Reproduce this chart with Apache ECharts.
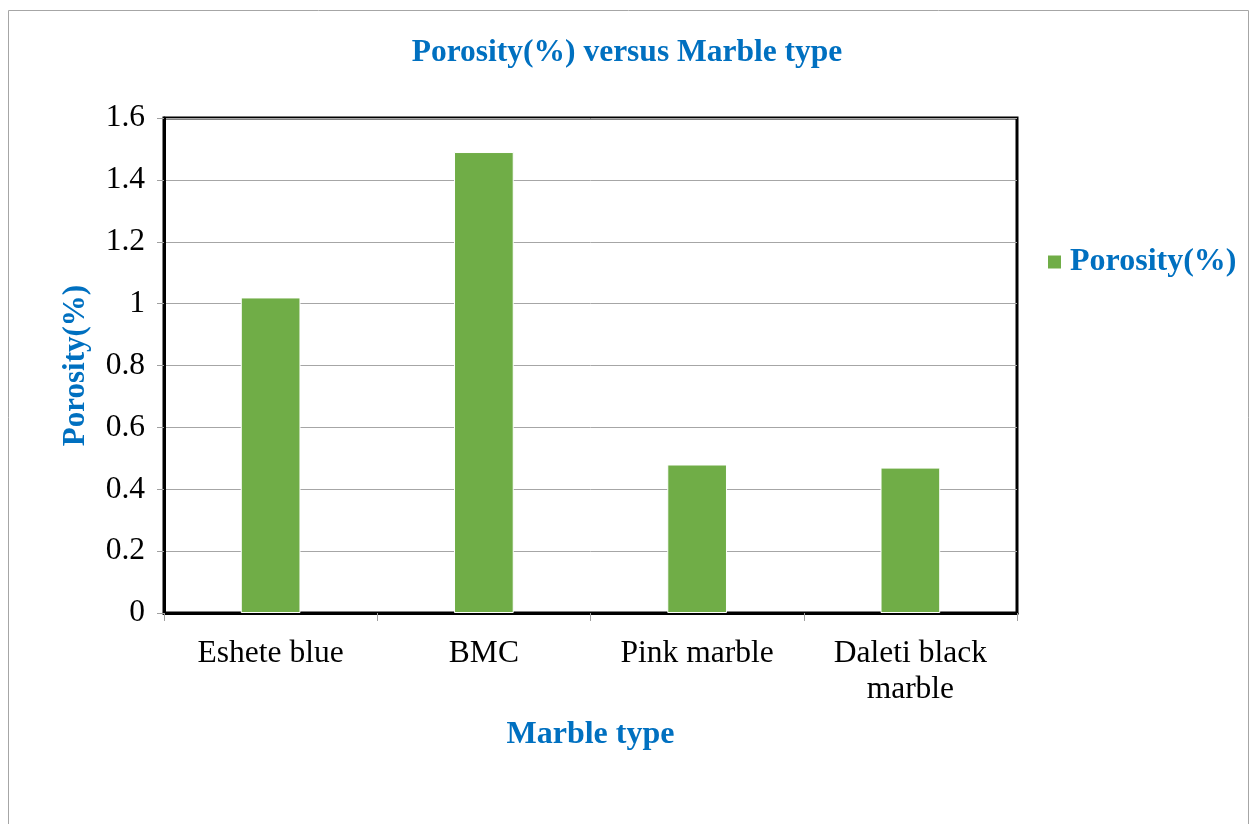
<!DOCTYPE html>
<html><head><meta charset="utf-8">
<script src="https://cdn.jsdelivr.net/npm/echarts@6/dist/echarts.min.js"></script>
<style>html,body{margin:0;padding:0;background:#fff}#c{width:1254px;height:824px}</style>
</head><body><div id="c"></div>
<script>
const categories = ['Eshete blue', 'BMC', 'Pink marble', 'Daleti black\nmarble'];
const porosity = [1.02, 1.49, 0.48, 0.47];
const seriesName = 'Porosity(%)';
const titleText = 'Porosity(%) versus Marble type';
const xName = 'Marble type';
const yName = 'Porosity(%)';

const blue = '#0070C0';
const serif = '"Liberation Serif", "Times New Roman", serif';
const chart = echarts.init(document.getElementById('c'));
chart.setOption({
  animation: false,
  backgroundColor: '#fff',
  graphic: [{type: 'rect', shape: {x: 8.5, y: 10.5, width: 1240, height: 830}, style: {fill: 'none', stroke: '#a6a6a6', lineWidth: 1}, silent: true}],
  title: {text: titleText, left: 'center', top: 32, textStyle: {fontFamily: serif, fontWeight: 'bold', fontSize: 31.5, color: blue}},
  legend: {data: [seriesName], left: 1041, top: 241, orient: 'vertical', itemWidth: 15, itemHeight: 15, itemGap: 8, icon: 'rect',
    textStyle: {fontFamily: serif, fontWeight: 'bold', fontSize: 32, color: blue, padding: [0, 0, 0, 3]}},
  grid: {left: 164, right: 237, top: 118, bottom: 211, show: true, borderColor: '#000', borderWidth: 3, containLabel: false},
  xAxis: {type: 'category', data: categories,
    name: xName, nameLocation: 'middle', nameGap: 106,
    nameTextStyle: {fontFamily: serif, fontWeight: 'bold', fontSize: 32, color: blue},
    axisLine: {lineStyle: {color: '#000', width: 3}},
    axisTick: {show: true, length: 8, lineStyle: {color: '#a0a0a0', width: 1}},
    axisLabel: {fontFamily: serif, fontSize: 31.5, color: '#000', margin: 23, lineHeight: 36},
    splitLine: {show: false}},
  yAxis: {type: 'value', min: 0, max: 1.6, interval: 0.2,
    name: yName, nameLocation: 'middle', nameGap: 73,
    nameTextStyle: {fontFamily: serif, fontWeight: 'bold', fontSize: 31, color: blue},
    axisLine: {show: true, lineStyle: {color: '#000', width: 3}},
    axisTick: {show: true, length: 7, lineStyle: {color: '#a0a0a0', width: 1}},
    axisLabel: {fontFamily: serif, fontSize: 31.5, color: '#000', margin: 19,
      formatter: v => String(Math.round(v * 10) / 10)},
    splitLine: {lineStyle: {color: '#a6a6a6', width: 1}}},
  series: [{name: seriesName, type: 'bar', data: porosity, barWidth: '28%',
    itemStyle: {color: '#70AD47', borderColor: '#ffffff', borderWidth: 1}}]
});
</script></body></html>
